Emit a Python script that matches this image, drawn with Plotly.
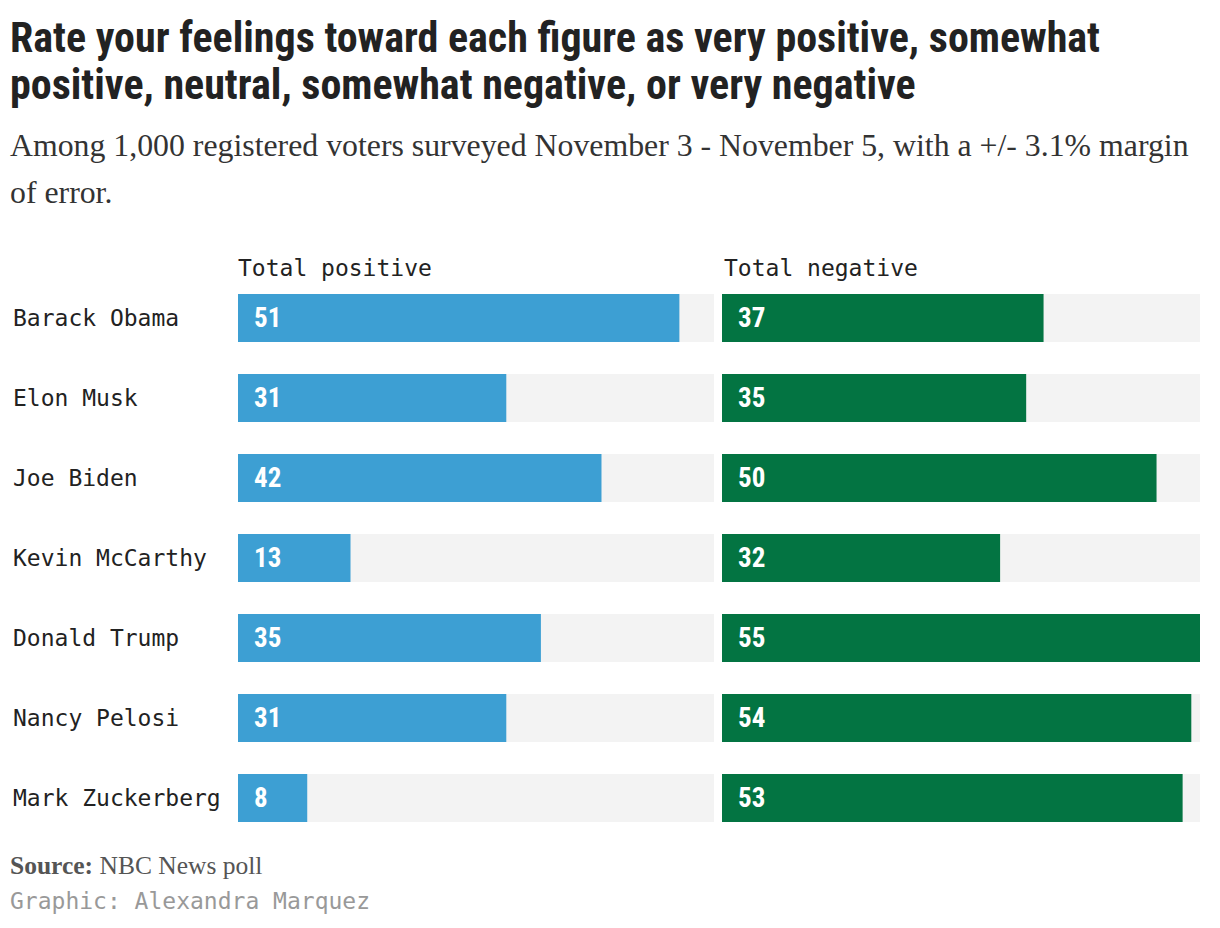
import plotly.graph_objects as go

# ---- data ----
names = ["Barack Obama", "Elon Musk", "Joe Biden", "Kevin McCarthy",
         "Donald Trump", "Nancy Pelosi", "Mark Zuckerberg"]
total_positive = [51, 31, 42, 13, 35, 31, 8]
total_negative = [37, 35, 50, 32, 55, 54, 53]
scale_max = 55
panel_titles = ["Total positive", "Total negative"]

title_lines = ["Rate your feelings toward each figure as very positive, somewhat",
               "positive, neutral, somewhat negative, or very negative"]
subtitle_lines = ["Among 1,000 registered voters surveyed November 3 - November 5, with a +/- 3.1% margin",
                  "of error."]
source_text = "<b>Source:</b> NBC News poll"
credit_text = "Graphic: Alexandra Marquez"

# ---- style ----
BLUE = "#3d9fd3"
GREEN = "#037442"
BG = "#f3f3f3"
W, H = 1220, 928
L, R, T, B = 238, 20, 278, 90
PW = W - L - R
PH = H - T - B

TITLE_FONT = "Roboto Condensed, Liberation Sans Narrow, DejaVu Sans Condensed, Roboto, sans-serif"
SERIF = "Liberation Serif, DejaVu Serif, serif"
MONO = "DejaVu Sans Mono, Liberation Mono, monospace"


def px(p):
    return (p - L) / PW


def py(p):
    return (H - B - p) / PH


fig = go.Figure()
bg = [scale_max] * len(names)
for xa, ya, vals, col in [("x", "y", total_positive, BLUE), ("x2", "y2", total_negative, GREEN)]:
    fig.add_trace(go.Bar(y=names, x=bg, orientation="h", marker=dict(color=BG, line=dict(width=0)),
                         xaxis=xa, yaxis=ya, hoverinfo="skip", showlegend=False))
    fig.add_trace(go.Bar(y=names, x=vals, orientation="h", marker=dict(color=col, line=dict(width=0)),
                         xaxis=xa, yaxis=ya, hoverinfo="skip", showlegend=False))

annotations = []
for xa, ya, vals in [("x", "y", total_positive), ("x2", "y2", total_negative)]:
    for n, v in zip(names, vals):
        annotations.append(dict(x=0, y=n, xref=xa, yref=ya, text=str(v), showarrow=False,
                                xanchor="left", yanchor="middle", xshift=14,
                                font=dict(family=TITLE_FONT, size=27, color="white", weight="bold")))

for n in names:
    annotations.append(dict(x=px(11), y=n, xref="paper", yref="y", text=n, showarrow=False,
                            xanchor="left", yanchor="middle",
                            font=dict(family=MONO, size=23, color="#222222")))

for i, t in enumerate(panel_titles):
    annotations.append(dict(x=0, y=py(268), xref="x domain" if i == 0 else "x2 domain", yref="paper",
                            text=t, showarrow=False, xanchor="left", yanchor="middle", xshift=-2 if i == 0 else 0,
                            font=dict(family=MONO, size=23, color="#222222")))

for t, yy in zip(title_lines, [37, 85]):
    annotations.append(dict(x=px(8), y=py(yy), xref="paper", yref="paper", text=t, showarrow=False,
                            xanchor="left", yanchor="middle",
                            font=dict(family=TITLE_FONT, size=42, color="#222222", weight="bold")))
for t, yy in zip(subtitle_lines, [146, 192]):
    annotations.append(dict(x=px(8), y=py(yy), xref="paper", yref="paper", text=t, showarrow=False,
                            xanchor="left", yanchor="middle",
                            font=dict(family=SERIF, size=31.8, color="#333333")))
annotations.append(dict(x=px(8), y=py(865), xref="paper", yref="paper", text=source_text, showarrow=False,
                        xanchor="left", yanchor="middle",
                        font=dict(family=SERIF, size=25.5, color="#555555")))
annotations.append(dict(x=px(8), y=py(901), xref="paper", yref="paper", text=credit_text, showarrow=False,
                        xanchor="left", yanchor="middle",
                        font=dict(family=MONO, size=23, color="#999999")))

gap_l = 714
gap_r = 722
axis_common = dict(range=[0, scale_max], showgrid=False, zeroline=False, showticklabels=False,
                   showline=False, ticks="", fixedrange=True)
fig.update_layout(
    width=W, height=H,
    margin=dict(l=L, r=R, t=T, b=B),
    paper_bgcolor="white", plot_bgcolor="white",
    barmode="overlay", bargap=0.4,
    xaxis=dict(domain=[0, px(gap_l)], anchor="y", **axis_common),
    xaxis2=dict(domain=[px(gap_r), 1], anchor="y2", **axis_common),
    yaxis=dict(categoryorder="array", categoryarray=names, autorange="reversed",
               showticklabels=False, showgrid=False, zeroline=False, showline=False, ticks="",
               anchor="x", fixedrange=True),
    yaxis2=dict(categoryorder="array", categoryarray=names, autorange="reversed", matches="y",
                showticklabels=False, showgrid=False, zeroline=False, showline=False, ticks="",
                anchor="x2", fixedrange=True),
    annotations=annotations,
    showlegend=False,
)

fig.write_html("out.html", config={"displayModeBar": False},
               post_script="document.body.style.margin='0';document.body.style.padding='0';")
